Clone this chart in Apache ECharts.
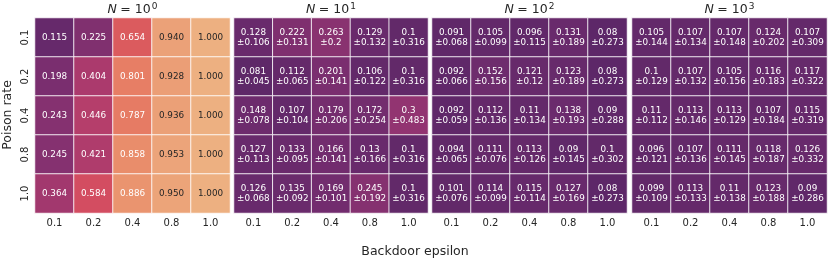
<!DOCTYPE html>
<html><head><meta charset="utf-8">
<script src="https://cdn.jsdelivr.net/npm/echarts@6/dist/echarts.min.js"></script>
<style>html,body{margin:0;padding:0;background:#fff}#c{width:831px;height:264px}</style>
</head><body><div id="c"></div>
<script>
const epsilons = ['0.1','0.2','0.4','0.8','1.0'];
const poisonRates = ['0.1','0.2','0.4','0.8','1.0'];
const exponents = ['0','1','2','3'];

// rows = poison rate, cols = backdoor epsilon
const meanN1 = [
  [0.115, 0.225, 0.654, 0.940, 1.000],
  [0.198, 0.404, 0.801, 0.928, 1.000],
  [0.243, 0.446, 0.787, 0.936, 1.000],
  [0.245, 0.421, 0.858, 0.953, 1.000],
  [0.364, 0.584, 0.886, 0.950, 1.000]
];
const meanN10 = [
  [0.128, 0.222, 0.263, 0.129, 0.1],
  [0.081, 0.112, 0.201, 0.106, 0.1],
  [0.148, 0.107, 0.179, 0.172, 0.3],
  [0.127, 0.133, 0.166, 0.13, 0.1],
  [0.126, 0.135, 0.169, 0.245, 0.1]
];
const stdN10 = [
  [0.106, 0.131, 0.2, 0.132, 0.316],
  [0.045, 0.065, 0.141, 0.122, 0.316],
  [0.078, 0.104, 0.206, 0.254, 0.483],
  [0.113, 0.095, 0.141, 0.166, 0.316],
  [0.068, 0.092, 0.101, 0.192, 0.316]
];
const meanN100 = [
  [0.091, 0.105, 0.096, 0.131, 0.08],
  [0.092, 0.152, 0.121, 0.123, 0.08],
  [0.092, 0.112, 0.11, 0.138, 0.09],
  [0.094, 0.111, 0.113, 0.09, 0.1],
  [0.101, 0.114, 0.115, 0.127, 0.08]
];
const stdN100 = [
  [0.068, 0.099, 0.115, 0.189, 0.273],
  [0.066, 0.156, 0.12, 0.189, 0.273],
  [0.059, 0.136, 0.134, 0.193, 0.288],
  [0.065, 0.076, 0.126, 0.145, 0.302],
  [0.076, 0.099, 0.114, 0.169, 0.273]
];
const meanN1000 = [
  [0.105, 0.107, 0.107, 0.124, 0.107],
  [0.1, 0.107, 0.105, 0.116, 0.117],
  [0.11, 0.113, 0.113, 0.107, 0.115],
  [0.096, 0.107, 0.111, 0.118, 0.126],
  [0.099, 0.113, 0.11, 0.123, 0.09]
];
const stdN1000 = [
  [0.144, 0.134, 0.148, 0.202, 0.309],
  [0.129, 0.132, 0.156, 0.183, 0.322],
  [0.112, 0.146, 0.129, 0.184, 0.319],
  [0.121, 0.136, 0.145, 0.187, 0.332],
  [0.109, 0.133, 0.138, 0.188, 0.286]
];

const FONT = 'DejaVu Sans';
const panels = [
  {mean: meanN1, std: null},
  {mean: meanN10, std: stdN10},
  {mean: meanN100, std: stdN100},
  {mean: meanN1000, std: stdN1000}
];
const lefts = [35, 234, 432, 632];
const widths = [195, 194, 195, 195];
const TOP = 18, H = 195;

const grids = [], xAxes = [], yAxes = [], series = [], graphics = [];
panels.forEach((p, k) => {
  grids.push({left: lefts[k], top: TOP, width: widths[k], height: H, containLabel: false});
  xAxes.push({type: 'category', gridIndex: k, data: epsilons,
    axisLine: {show: false}, axisTick: {show: false}, splitLine: {show: false},
    axisLabel: {fontFamily: FONT, fontSize: 10, color: '#262626', margin: 5}});
  yAxes.push({type: 'category', gridIndex: k, data: poisonRates, inverse: true,
    axisLine: {show: false}, axisTick: {show: false}, splitLine: {show: false},
    axisLabel: {show: k === 0, fontFamily: FONT, fontSize: 10, color: '#262626', rotate: 90, margin: 5}});
  const data = [];
  p.mean.forEach((row, r) => row.forEach((m, c) => {
    const txt = p.std ? (String(m) + '\n±' + String(p.std[r][c])) : m.toFixed(3);
    data.push({value: [c, r, m], text: txt, label: {color: m > 0.9 ? '#262626' : '#ffffff'}});
  }));
  series.push({type: 'heatmap', xAxisIndex: k, yAxisIndex: k, data: data,
    itemStyle: {borderColor: 'rgba(255,255,255,0.85)', borderWidth: 1},
    label: {show: true, fontFamily: FONT, fontSize: 8.8, lineHeight: 10,
      formatter: (pr) => pr.data.text},
    emphasis: {disabled: true}});
  graphics.push({type: 'text', x: lefts[k] + widths[k] / 2, y: 10,
    style: {text: '{n|N} {t|= 10}{s|' + exponents[k] + '}', align: 'center', verticalAlign: 'middle',
      rich: {
        n: {fontFamily: FONT, fontStyle: 'italic', fontSize: 12.5, fill: '#262626', lineHeight: 16},
        t: {fontFamily: FONT, fontSize: 12.5, fill: '#262626', lineHeight: 16},
        s: {fontFamily: FONT, fontSize: 9, fill: '#262626', verticalAlign: 'top', lineHeight: 16, padding: [0, 0, 0, 1]}
      }}});
});
graphics.push({type: 'text', x: 415, y: 252,
  style: {text: 'Backdoor epsilon', fontFamily: FONT, fontSize: 12.5, fill: '#262626', align: 'center', verticalAlign: 'middle'}});
graphics.push({type: 'text', x: 8, y: 115, rotation: Math.PI / 2,
  style: {text: 'Poison rate', fontFamily: FONT, fontSize: 12.5, fill: '#262626', align: 'center', verticalAlign: 'middle'}});

const chart = echarts.init(document.getElementById('c'), null, {renderer: 'canvas'});
chart.setOption({
  animation: false,
  grid: grids, xAxis: xAxes, yAxis: yAxes, series: series,
  visualMap: {show: false, min: 0, max: 1, dimension: 2, seriesIndex: [0, 1, 2, 3],
    inRange: {color: ['#4b2361', '#6c2b6d', '#8f3371', '#b13c6c', '#d14a61', '#e3685c', '#e98d6b', '#edb081']}},
  graphic: graphics
});
</script></body></html>
